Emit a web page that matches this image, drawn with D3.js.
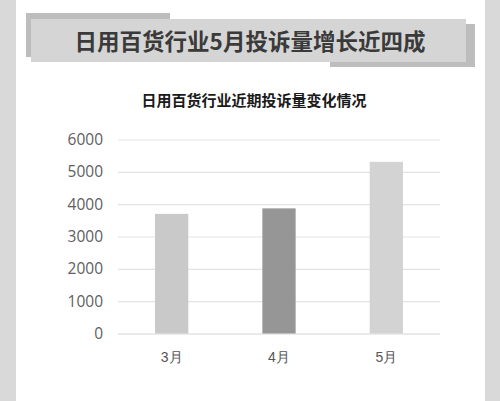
<!DOCTYPE html>
<html>
<head>
<meta charset="utf-8">
<script src="https://cdn.jsdelivr.net/npm/d3@7"></script>
<style>
  html, body { margin: 0; padding: 0; background: #fff; }
  svg { display: block; font-family: "Noto Sans CJK SC", "Noto Sans", sans-serif; }
</style>
</head>
<body>
<script>
"use strict";

// chart data
const months = ["3月", "4月", "5月"];
const complaints = [3700, 3870, 5310];
const barColors = ["#c9c9c9", "#969696", "#d3d3d3"];
const yTicks = [0, 1000, 2000, 3000, 4000, 5000, 6000];

const headline = "日用百货行业5月投诉量增长近四成";
const chartTitle = "日用百货行业近期投诉量变化情况";

const width = 500,
      height = 401;

const margin = { top: 139.5, right: 60, bottom: 67.5, left: 118 };

const svg = d3.select("body").append("svg")
    .attr("width", width)
    .attr("height", height);

// grey side strips of the page
svg.append("rect").attr("x", 0).attr("y", 0)
   .attr("width", 16).attr("height", height).attr("fill", "#d9d9d9");
svg.append("rect").attr("x", 485).attr("y", 0)
   .attr("width", 15).attr("height", height).attr("fill", "#d9d9d9");

// headline banner: two darker offset pieces behind a lighter box
const banner = svg.append("g");
banner.append("rect").attr("x", 26).attr("y", 13)
      .attr("width", 144).attr("height", 44).attr("fill", "#bdbdbd");
banner.append("rect").attr("x", 330).attr("y", 24)
      .attr("width", 145).attr("height", 43).attr("fill", "#bdbdbd");
banner.append("rect").attr("x", 31).attr("y", 19)
      .attr("width", 435).attr("height", 43).attr("fill", "#d5d5d5");
banner.append("text")
      .attr("x", 250).attr("y", 50)
      .attr("text-anchor", "middle")
      .attr("font-size", 22.5)
      .attr("font-weight", "bold")
      .attr("fill", "#3a3a3a")
      .text(headline);

svg.append("text")
   .attr("x", 254).attr("y", 106)
   .attr("text-anchor", "middle")
   .attr("font-size", 15)
   .attr("font-weight", "bold")
   .attr("fill", "#1a1a1a")
   .text(chartTitle);

const innerW = width - margin.left - margin.right;
const innerH = height - margin.top - margin.bottom;

const x = d3.scaleBand()
    .domain(months)
    .range([0, innerW])
    .paddingInner(0.69)
    .paddingOuter(0.345);

const y = d3.scaleLinear()
    .domain([0, 6000])
    .range([innerH, 0]);

const g = svg.append("g")
    .attr("transform", `translate(${margin.left},${margin.top})`);

// horizontal grid lines
const yAxis = g.append("g")
    .call(d3.axisLeft(y)
            .tickValues(yTicks)
            .tickFormat(d3.format("d"))
            .tickSize(-innerW)
            .tickPadding(15))
    .call(a => a.select(".domain").remove());

yAxis.selectAll(".tick line")
     .attr("stroke", d => d === 0 ? "#d6d6d6" : "#e3e3e3")
     .attr("stroke-width", 1.2);

yAxis.selectAll(".tick text")
     .attr("font-size", 15.5)
     .attr("fill", "#606060")
     .attr("font-family", "\"Open Sans\", \"Noto Sans\", sans-serif");

g.selectAll(".bar")
 .data(complaints)
 .enter().append("rect")
 .attr("class", "bar")
 .attr("x", (d, i) => x(months[i]))
 .attr("y", d => y(d))
 .attr("width", x.bandwidth())
 .attr("height", d => innerH - y(d))
 .attr("fill", (d, i) => barColors[i]);

const xAxis = g.append("g")
    .attr("transform", `translate(0,${innerH})`)
    .call(d3.axisBottom(x).tickSize(0).tickPadding(19));

xAxis.select(".domain").remove();
xAxis.selectAll(".tick text")
     .attr("font-size", 14)
     .attr("fill", "#555");
</script>
</body>
</html>
